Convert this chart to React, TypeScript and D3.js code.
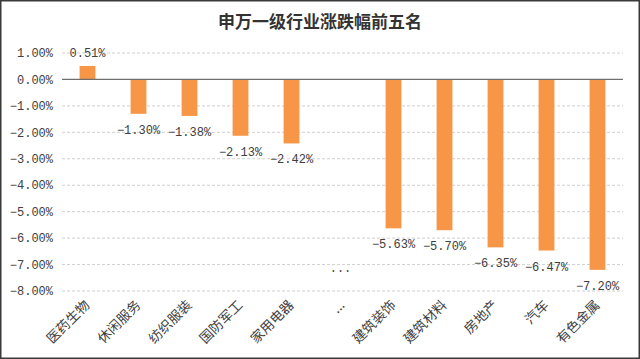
import React from 'react';
import * as d3 from 'd3';

const categories = ['医药生物', '休闲服务', '纺织服装', '国防军工', '家用电器', '...', '建筑装饰', '建筑材料', '房地产', '汽车', '有色金属'];
const values: (number | null)[] = [0.51, -1.30, -1.38, -2.13, -2.42, null, -5.63, -5.70, -6.35, -6.47, -7.20];
const yTicks = [1, 0, -1, -2, -3, -4, -5, -6, -7, -8];
const title = '申万一级行业涨跌幅前五名';

const W = 640;
const H = 359;
const margin = { top: 53, right: 17, bottom: 68, left: 62 };

const numFont = "'Liberation Mono', 'DejaVu Sans Mono', monospace";
const cjkFont = "'Noto Sans CJK SC', sans-serif";

const App: React.FC = () => {
  const x = d3.scaleBand<string>()
    .domain(categories)
    .range([margin.left, W - margin.right])
    .paddingInner(0.69)
    .paddingOuter(0.345);

  const y = d3.scaleLinear()
    .domain([1, -8])
    .range([margin.top, H - margin.bottom]);

  const fmt = (v: number) => d3.format('.2f')(v) + '%';
  const bw = x.bandwidth();

  return (
    <svg width={W} height={H} style={{ position: 'absolute', left: 0, top: 0, background: '#fff' }}>
      <rect x={0.75} y={0.75} width={W - 1.5} height={H - 1.5} fill="#fff" stroke="#3a3a3a" strokeWidth={1.5} />

      <text x={W / 2} y={28} textAnchor="middle" fontFamily={cjkFont} fontWeight="bold" fontSize={17} fill="#333">
        {title}
      </text>

      {/* gridlines */}
      {yTicks.filter(t => t !== 0).map(t => (
        <line key={'g' + t} x1={margin.left} x2={W - margin.right} y1={y(t)} y2={y(t)}
          stroke="#d0d0d0" strokeWidth={1} strokeDasharray="3,2" />
      ))}

      {/* y tick labels */}
      {yTicks.map(t => (
        <text key={'t' + t} x={margin.left - 9} y={y(t)} dy="0.35em" textAnchor="end"
          fontFamily={numFont} fontSize={12} fill="#404040">{fmt(t)}</text>
      ))}

      {/* bars */}
      {categories.map((c, i) => {
        const v = values[i];
        if (v === null) return null;
        return (
          <rect key={'b' + c} x={x(c)!} width={bw}
            y={Math.min(y(v), y(0))} height={Math.abs(y(v) - y(0))} fill="#f79646" />
        );
      })}

      {/* zero line */}
      <line x1={margin.left} x2={W - margin.right} y1={y(0)} y2={y(0)} stroke="#6f6f6f" strokeWidth={1.2} />

      {/* data labels */}
      {categories.map((c, i) => {
        const v = values[i];
        const cx = x(c)! + bw / 2;
        if (v === null) {
          return (
            <text key={'l' + c} x={cx - 2} y={y(d3.min(values as number[])! - 0.1)} textAnchor="middle"
              fontFamily={numFont} fontSize={12} fill="#404040">...</text>
          );
        }
        const ly = v >= 0 ? y(v) - 9 : y(v) + 20;
        return (
          <text key={'l' + c} x={cx} y={ly} textAnchor="middle"
            fontFamily={numFont} fontSize={12} fill="#404040">{fmt(v)}</text>
        );
      })}

      {/* x labels */}
      {categories.map(c => {
        const cx = x(c)! + bw / 2 + 3;
        const ly = H - margin.bottom + 15;
        return (
          <text key={'x' + c} x={cx} y={ly} textAnchor="end" transform={`rotate(-45, ${cx}, ${ly})`}
            fontFamily={cjkFont} fontSize={13.5} fill="#404040">{c}</text>
        );
      })}
    </svg>
  );
};

export default App;
